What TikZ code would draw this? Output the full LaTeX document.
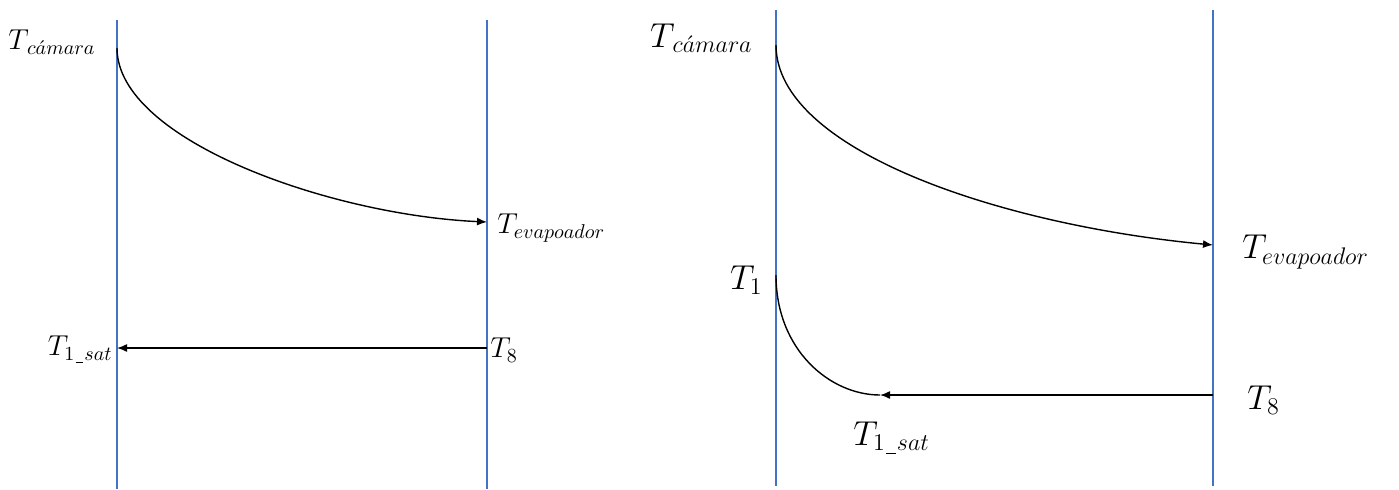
\documentclass[tikz,border=0pt]{standalone}
\usepackage{xcolor}
\usepackage{tikz}
\usetikzlibrary{arrows.meta}
\definecolor{wallblue}{RGB}{68,114,196}
\newcommand{\usc}{\mkern1mu\underline{\mkern7mu}\mkern1mu}

\begin{document}
\begin{tikzpicture}[x=0.5pt,y=-0.5pt, every node/.style={inner sep=0pt}]
  \tikzstyle{wall}=[draw=wallblue, line width=0.55pt]
  \tikzstyle{flow}=[draw=black, line width=0.7pt, -{Latex[length=5pt,width=4pt]}]
  \tikzstyle{plain}=[draw=black, line width=0.7pt]
  \tikzstyle{lbl}=[font=\Large]
  \tikzstyle{lblr}=[font=\LARGE]
  \useasboundingbox (0,0) rectangle (1399,489);
  % left panel
  \coordinate (lwa) at (117,20);  \coordinate (lwb) at (117,489);
  \coordinate (rwa) at (487,20);  \coordinate (rwb) at (487,489);
  \coordinate (lcam) at (117,48); \coordinate (levap) at (487,222);
  \coordinate (lsat) at (117,348); \coordinate (leight) at (487,348);
  \draw[wall] (lwa) -- (lwb);
  \draw[wall] (rwa) -- (rwb);
  \draw[flow] (lcam) .. controls (117,140) and (330,215) .. (levap);
  \draw[flow] (leight) -- (lsat);
  \node[lbl, anchor=east] (tcamL) at (96,42) {$T_{\mkern2mu c\acute{a}mara}$};
  \node[lbl, anchor=west] (tevL) at (497,228) {$T_{evapoador}$};
  \node[lbl, anchor=east] (tsatL) at (113,350) {$T_{1\usc sat}$};
  \node[lbl, anchor=west] (t8L) at (490,350) {$T_{8}$};
  % right panel
  \coordinate (lwc) at (776,10);  \coordinate (lwd) at (776,486);
  \coordinate (rwc) at (1213,10); \coordinate (rwd) at (1213,486);
  \coordinate (rcam) at (776,45); \coordinate (revap) at (1213,245);
  \coordinate (rone) at (776,275); \coordinate (rsat) at (880,395);
  \coordinate (reight) at (1213,395);
  \draw[wall] (lwc) -- (lwd);
  \draw[wall] (rwc) -- (rwd);
  \draw[flow] (rcam) .. controls (776,150) and (1000,225) .. (revap);
  \draw[flow] (reight) -- (rsat);
  \draw[plain] (rone) .. controls (776,350) and (830,395) .. (rsat);
  \node[lblr, anchor=east] (tcamR) at (753,38) {$T_{\mkern2mu c\acute{a}mara}$};
  \node[lblr, anchor=west] (tevR) at (1242,252) {$T_{evapoador}$};
  \node[lblr, anchor=east] (t1R) at (763,280) {$T_{1}$};
  \node[lblr, anchor=west] (t8R) at (1247,400) {$T_{8}$};
  \node[lblr, anchor=west] (tsatR) at (853,438) {$T_{1\usc sat}$};
\end{tikzpicture}
\end{document}
